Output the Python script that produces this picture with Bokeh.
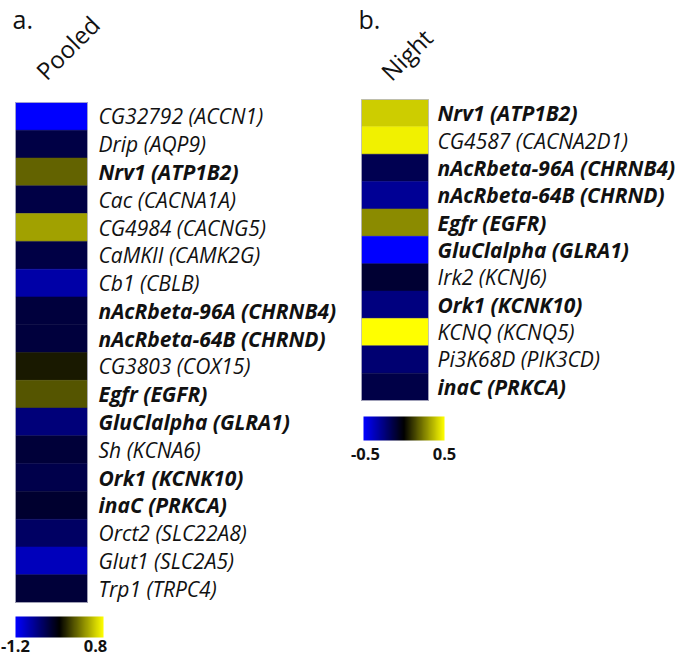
from bokeh.plotting import figure
from bokeh.models import Range1d, LinearColorMapper, ColumnDataSource
from bokeh.core.properties import value
from bokeh.embed import file_html
from bokeh.resources import INLINE
import numpy as np

# ---------------- data ----------------
pooled_genes = ["CG32792 (ACCN1)", "Drip (AQP9)", "Nrv1 (ATP1B2)", "Cac (CACNA1A)",
                "CG4984 (CACNG5)", "CaMKII (CAMK2G)", "Cb1 (CBLB)",
                "nAcRbeta-96A (CHRNB4)", "nAcRbeta-64B (CHRND)", "CG3803 (COX15)",
                "Egfr (EGFR)", "GluClalpha (GLRA1)", "Sh (KCNA6)", "Ork1 (KCNK10)",
                "inaC (PRKCA)", "Orct2 (SLC22A8)", "Glut1 (SLC2A5)", "Trp1 (TRPC4)"]
pooled_bold = [False, False, True, False, False, False, False, True, True, False,
               True, True, False, True, True, False, False, False]
pooled_values = [-1.20, -0.47, 0.19, -0.47, 0.43, -0.47, -0.85, -0.44, -0.44, -0.10,
                 0.13, -0.67, -0.42, -0.49, -0.38, -0.59, -0.93, -0.42]
pooled_range = [-1.2, 0.8]

night_genes = ["Nrv1 (ATP1B2)", "CG4587 (CACNA2D1)", "nAcRbeta-96A (CHRNB4)",
               "nAcRbeta-64B (CHRND)", "Egfr (EGFR)", "GluClalpha (GLRA1)",
               "Irk2 (KCNJ6)", "Ork1 (KCNK10)", "KCNQ (KCNQ5)", "Pi3K68D (PIK3CD)",
               "inaC (PRKCA)"]
night_bold = [True, False, True, True, True, True, False, True, False, False, True]
night_values = [0.40, 0.47, -0.16, -0.29, 0.27, -0.50, -0.10, -0.25, 0.50, -0.22, -0.14]
night_range = [-0.5, 0.5]

panel_letters = ["a.", "b."]
panel_titles = ["Pooled", "Night"]

# ---------------- palette: blue -> black -> yellow ----------------
def make_palette(n=256):
    pal = []
    for i in range(n):
        t = i / (n - 1)
        if t < 0.5:
            b = int(round(255 * (1 - t / 0.5)))
            pal.append("#%02x%02x%02x" % (0, 0, b))
        else:
            y = int(round(255 * ((t - 0.5) / 0.5)))
            pal.append("#%02x%02x%02x" % (y, y, 0))
    return pal

PAL = make_palette()

W, H = 675, 656
p = figure(width=W, height=H, x_range=Range1d(0, W), y_range=Range1d(H, 0),
           output_backend="svg", toolbar_location=None, min_border=0,
           x_axis_location=None, y_axis_location=None)
p.grid.visible = False
p.outline_line_color = None
p.background_fill_color = "white"
p.border_fill_color = "white"

FONT = value("Open Sans")
TXT = "#111111"


def panel(genes, bold, vals, rng, left, right, top, bottom, label_x,
          cb_left, cb_right, cb_top, cb_bottom, cb_label_xs, cb_label_y,
          letter, letter_x, title, title_x, title_y):
    n = len(genes)
    h = (bottom - top) / n
    mapper = LinearColorMapper(palette=PAL, low=rng[0], high=rng[1])
    ys = [top + (i + 0.5) * h for i in range(n)]
    src = ColumnDataSource(dict(
        x=[(left + right) / 2] * n, y=ys, v=vals, name=genes,
        lx=[label_x] * n,
        style=["bold italic" if b else "italic" for b in bold]))
    p.rect(x="x", y="y", width=right - left, height=h, source=src,
           fill_color={"field": "v", "transform": mapper},
           line_color={"field": "v", "transform": mapper}, line_width=0.5)
    # faint frame round the heat map
    p.rect(x=[(left + right) / 2], y=[(top + bottom) / 2], width=right - left,
           height=bottom - top, fill_color=None, line_color="#b8b8c8",
           line_width=0.8)
    p.text(x="lx", y="y", text="name", source=src, text_font=FONT,
           text_font_size="21px", text_font_style="style",
           text_baseline="middle", text_align="left", text_color=TXT)
    # colour bar
    ramp = np.linspace(rng[0], rng[1], 256).reshape(1, 256)
    p.image(image=[ramp], x=cb_left, y=cb_top, dw=cb_right - cb_left,
            dh=cb_bottom - cb_top, color_mapper=mapper)
    p.text(x=cb_label_xs, y=[cb_label_y, cb_label_y],
           text=["%g" % rng[0], "%g" % rng[1]], text_font=FONT,
           text_font_size="16.5px", text_font_style="bold",
           text_align="center", text_baseline="middle", text_color=TXT)
    # headings
    p.text(x=[letter_x], y=[1], text=[letter], text_font=FONT,
           text_font_size="25px", text_baseline="top", text_align="left",
           text_color=TXT)
    p.text(x=[title_x], y=[title_y], text=[title], text_font=FONT,
           text_font_size="24px", text_baseline="middle", text_align="center",
           angle=np.pi / 4, text_color=TXT)


panel(pooled_genes, pooled_bold, pooled_values, pooled_range,
      15, 87, 102, 602, 98,
      15, 103, 616, 637, [15, 95], 645,
      panel_letters[0], 12, panel_titles[0], 67, 47)
panel(night_genes, night_bold, night_values, night_range,
      361, 428, 99, 400, 437,
      363, 444, 416, 440, [365, 444], 453,
      panel_letters[1], 358, panel_titles[1], 406, 54)

open("out.html", "w").write(file_html(p, INLINE))
